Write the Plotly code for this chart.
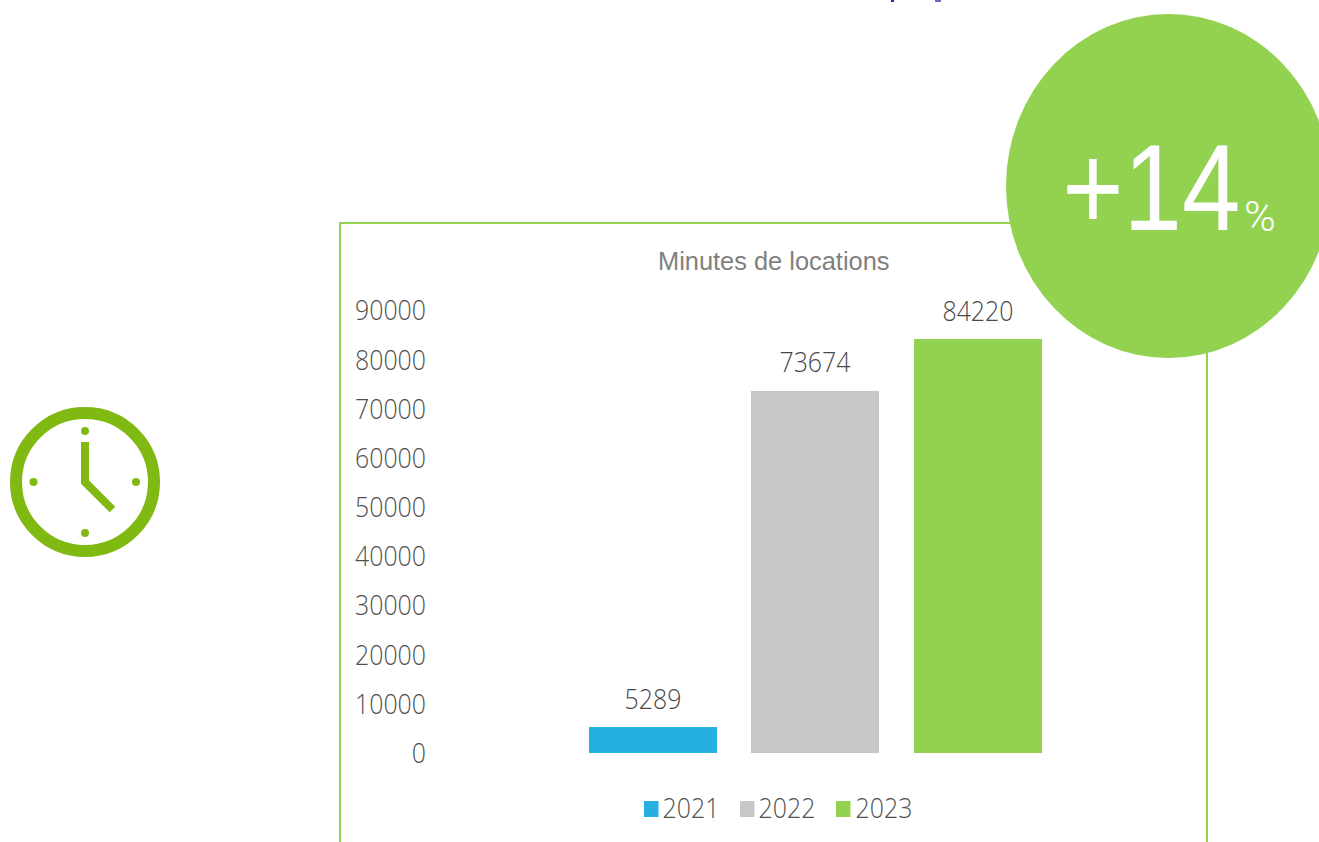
import plotly.graph_objects as go

W, H = 1319, 842
years = ["2021", "2022", "2023"]
values = [5289, 73674, 84220]
colors = ["#25B0E2", "#C6C7C9", "#92D250"]
y_ticks = [0, 10000, 20000, 30000, 40000, 50000, 60000, 70000, 80000, 90000]
title = "Minutes de locations"
DARK = "#505050"
GREEN = "#92D250"
CLOCK = "#7FB911"
NUM_FONT = "Open Sans"
NUM_SIZE = 28


def px(x):
    return x / W


def py(y):
    return 1 - y / H


def box(x0, y0, x1, y1):
    return dict(xref="paper", yref="paper", x0=px(x0), x1=px(x1), y0=py(y1), y1=py(y0))


fig = go.Figure()
for yr, v, c in zip(years, values, colors):
    fig.add_bar(x=[yr], y=[v], marker=dict(color=c, line_width=0), width=0.788, showlegend=False, name=yr)

shapes = []
shapes.append(dict(type="rect", **box(340, 223, 1207, 860), line=dict(color=GREEN, width=2), layer="below"))
shapes.append(dict(type="circle", **box(1006, 14, 1331, 358), fillcolor=GREEN, line_width=0, layer="above"))
shapes.append(dict(type="circle", **box(16, 413, 154, 551), line=dict(color=CLOCK, width=12), layer="above"))
for cx, cy in [(85, 431), (85, 533), (33.5, 482), (136, 482)]:
    shapes.append(dict(type="circle", **box(cx - 4, cy - 4, cx + 4, cy + 4), fillcolor=CLOCK, line_width=0))
shapes.append(dict(type="path", xref="paper", yref="paper",
                   path=f"M {px(85)} {py(442)} L {px(85)} {py(482)} L {px(112.5)} {py(509.5)}",
                   line=dict(color=CLOCK, width=8), layer="above"))
# clipped remnants of a line of text above the picture's top edge
shapes.append(dict(type="rect", **box(891, 0, 894, 2), fillcolor="#2F2AA8", line_width=0))
shapes.append(dict(type="rect", **box(935, 0, 941, 2), fillcolor="#6F6BC4", line_width=0))

annotations = []
for i, v in enumerate(values):
    annotations.append(dict(x=i, y=v, xref="x", yref="y", text=str(v), showarrow=False, yshift=29.5,
                            font=dict(family=NUM_FONT, size=NUM_SIZE, color="#484848", weight=300)))
annotations.append(dict(x=px(773.5), y=py(261), xref="paper", yref="paper", text=title, showarrow=False,
                        yanchor="middle", font=dict(family="Liberation Sans", size=25.4, color="#7F7F7F")))
annotations.append(dict(x=px(1045), y=py(188), xref="paper", yref="paper", text="+14", showarrow=False,
                        xanchor="left", yanchor="middle",
                        font=dict(family="Liberation Sans", size=123, color="white")))
annotations.append(dict(x=px(1242), y=py(216), xref="paper", yref="paper", text="%", showarrow=False,
                        xanchor="left", yanchor="middle", font=dict(family="Roboto", size=43, color="white", weight=300)))
for sx, tx, yr, c in zip([644, 740, 836], [657, 753, 850], years, colors):
    shapes.append(dict(type="rect", **box(sx, 801, sx + 14.5, 817), fillcolor=c, line_width=0))
    annotations.append(dict(x=px(tx), y=py(807), xref="paper", yref="paper", text=yr, showarrow=False,
                            xanchor="left", yanchor="middle",
                            font=dict(family=NUM_FONT, size=NUM_SIZE, color=DARK, weight=300)))

fig.update_layout(
    width=W, height=H, margin=dict(l=0, r=0, t=0, b=0),
    paper_bgcolor="white", plot_bgcolor="white",
    bargap=0, showlegend=False,
    xaxis=dict(automargin=False, type="category", categoryorder="array", categoryarray=years,
               showticklabels=False, ticks="", showgrid=False, showline=False, zeroline=False,
               range=[-1.36, 3], domain=[px(432), px(1140)]),
    yaxis=dict(automargin=False, range=[0, 90000], domain=[py(753), py(310.6)], tickmode="array", tickvals=y_ticks,
               ticktext=[str(t) for t in y_ticks], showgrid=False, zeroline=False, showline=False, ticks="",
               ticklabelstandoff=5,
               tickfont=dict(family=NUM_FONT, size=NUM_SIZE, color=DARK, weight=300)),
    shapes=shapes, annotations=annotations,
)
# condense the text horizontally to the reference's narrower letterforms
post = """
document.body.style.margin='0';document.documentElement.style.overflow='hidden';
document.querySelectorAll('svg text').forEach(function(t){
  var s=t.textContent;
  if(/^[0-9]+$/.test(s)){t.setAttribute('textLength',String(s.length*14.2));t.setAttribute('lengthAdjust','spacingAndGlyphs');}
  if(s==='+14'){t.setAttribute('textLength','178');t.setAttribute('lengthAdjust','spacingAndGlyphs');}
});
"""
fig.write_html("out.html", config={"displayModeBar": False}, post_script=post)
